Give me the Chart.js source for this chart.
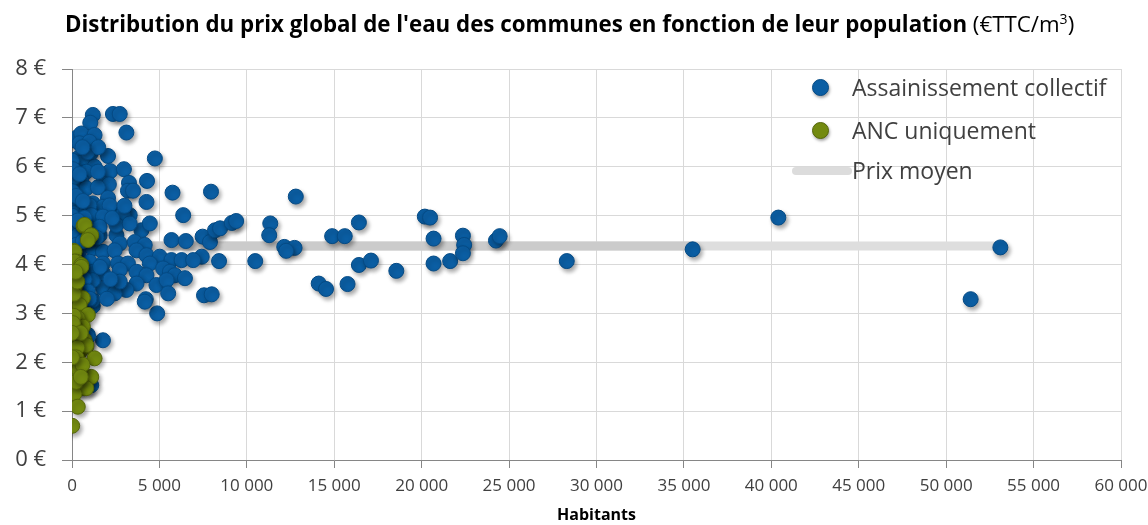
<!DOCTYPE html>
<html lang="fr">
<head>
<meta charset="utf-8">
<script src="https://cdn.jsdelivr.net/npm/chart.js@4.4.1/dist/chart.umd.min.js"></script>
<style>
  body { margin: 0; background: #fff; }
  #wrap { position: relative; width: 1148px; height: 525px; overflow: hidden; }
  #title {
    position: absolute; left: 65px; top: 8px; white-space: nowrap;
    font-family: "Open Sans", sans-serif; font-size: 22.3px; color: #000;
  }
  #title b { font-weight: bold; }
  #title sup { font-size: 14px; }
  .leg { position: absolute; font-family: "Open Sans", sans-serif; font-size: 23px; line-height: 30px; color: #404040; white-space: nowrap; }
  .dot { position: absolute; width: 15px; height: 15px; border-radius: 50%; box-shadow: 1px 2px 3px rgba(0,0,0,0.35); }
</style>
</head>
<body>
<div id="wrap">
  <canvas id="chart" width="1148" height="525"></canvas>
  <div id="title"><b>Distribution du prix global de l'eau des communes en fonction de leur population</b> (€TTC/m<sup>3</sup>)</div>
  <div class="dot" style="left:812px;top:79px;background:#0b5ea3;border:1px solid #054a84"></div>
  <div class="leg" style="left:852px;top:72px">Assainissement collectif</div>
  <div class="dot" style="left:812px;top:122px;background:#738a10;border:1px solid #55660a"></div>
  <div class="leg" style="left:852px;top:115px">ANC uniquement</div>
  <div style="position:absolute;left:792px;top:167px;width:60px;height:8px;border-radius:4px;background:#dcdcdc"></div>
  <div class="leg" style="left:852px;top:155px">Prix moyen</div>
</div>
<script>
// Assainissement collectif : population / prix (€TTC/m3)
const collectifPop = [
  28300, 35500, 40400, 51400, 53100,
  7950, 12800, 7470, 7890, 8180, 8470, 9140, 9390, 7420, 8410, 7550, 7990, 10480, 11340, 11280,
  12140, 12730, 12250, 14110, 14530, 14880, 15600, 16410, 15760, 16410, 17100, 18550, 20180, 20480,
  20680, 20680, 21630, 22360, 22430, 22360, 24250, 24460,
  1190, 1045, 2340, 2730, 3110, 143, 330, 530, 1290, 430, 1000, 50, 330, 1060, 2060, 4740, 620, 1290,
  815, 2190, 2970, 143, 530, 1770, 2110, 3260, 4290, 815, 1480, 3200, 3490, 5750, 2060, 143, 4260,
  1190, 1770, 143, 815, 2820, 3300, 6360,
  1000, 2150, 1100, 1770, 2920, 3970, 4450, 5690, 6510, 0, 330, 1580, 2540, 815, 1580, 2540, 3300,
  2730, 3590, 4160, 430, 1190, 1770, 2440, 3690, 4260, 5020, 5690, 6270, 6930, 1000, 1770, 2630,
  3200, 4450, 1190, 1770, 2730, 3690, 4260, 5210, 5600, 5880, 6460, 4830, 5410, 3690, 3110, 1770,
  2440, 2730, 1190, 4220, 4870, 5500, 1770, 4160, 1190, 1100, 905, 905, 1190, 0, 143, 0, 143, 0, 100,
  0, 50, 240, 430, 620, 720, 240, 620, 430, 720, 905, 620, 1000, 2000, 1400, 1480, 2300, 3000, 1600,
  2200, 330, 900, 1500, 600
];
const collectifPrix = [
  4.07, 4.31, 4.96, 3.29, 4.35,
  5.49, 5.39, 4.57, 4.46, 4.70, 4.74, 4.85, 4.89, 4.16, 4.07, 3.37, 3.39, 4.07, 4.84, 4.60,
  4.36, 4.34, 4.28, 3.61, 3.50, 4.58, 4.58, 4.86, 3.60, 3.99, 4.08, 3.87, 4.98, 4.96,
  4.53, 4.02, 4.07, 4.59, 4.40, 4.23, 4.49, 4.58,
  7.06, 6.90, 7.08, 7.08, 6.70, 6.54, 6.61, 6.68, 6.65, 6.48, 6.51, 6.10, 6.17, 6.27, 6.22, 6.17, 6.10, 6.00,
  5.90, 5.91, 5.95, 5.76, 5.73, 5.66, 5.64, 5.67, 5.71, 5.56, 5.58, 5.51, 5.51, 5.47, 5.36, 5.28, 5.28,
  5.25, 5.18, 5.05, 5.08, 5.05, 5.01, 5.01,
  5.21, 5.21, 5.01, 4.98, 5.03, 4.70, 4.84, 4.50, 4.48, 4.64, 4.60, 4.60, 4.60, 4.81, 4.77, 4.81, 4.84,
  4.43, 4.46, 4.40, 4.29, 4.33, 4.26, 4.29, 4.29, 4.19, 4.16, 4.09, 4.09, 4.09, 4.06, 4.02, 4.02,
  4.02, 4.02, 3.85, 3.82, 3.89, 3.85, 3.78, 3.92, 3.85, 3.78, 3.72, 3.58, 3.68, 3.61, 3.48, 3.51,
  3.41, 3.65, 3.68, 3.29, 3.00, 3.41, 2.45, 3.24, 3.15, 1.53, 2.56, 2.52, 3.27, 6.13, 5.79, 5.00, 4.23, 1.84, 1.55,
  5.50, 5.95, 5.40, 5.85, 5.30, 4.95, 4.40, 4.48, 3.95, 3.70, 3.45, 3.35, 3.30, 3.30, 4.55, 5.90, 4.95, 5.20, 3.95,
  3.70, 4.90, 6.30, 6.40, 6.40
];

// ANC uniquement
const ancPop = [
  660, 720, 965, 1100, 905, 86, 143, 240, 143, 530, 530, 50, 143, 50, 143, 0, 50, 330, 620, 430,
  430, 905, 330, 143, 620, 240, 720, 430, 815, 815, 50, 1290, 50, 143, 143, 815, 1100, 0, 143, 330,
  720, 815, 143, 330, 10,
  200, 100, 300, 250, 50, 400, 600, 100, 300, 200, 500, 0, 0, 250, 500
];
const ancPrix = [
  4.79, 4.81, 4.55, 4.60, 4.50, 4.28, 4.26, 4.06, 4.06, 3.99, 3.95, 3.75, 3.54, 3.58, 3.51, 3.24, 3.20, 3.13, 3.31, 3.17,
  2.90, 2.97, 2.90, 2.52, 2.73, 2.49, 2.45, 2.21, 2.32, 2.35, 2.39, 2.08, 1.94, 1.91, 1.74, 1.70, 1.70, 1.53, 1.53, 1.50,
  1.47, 1.47, 1.36, 1.09, 0.70,
  2.70, 2.95, 2.30, 2.10, 2.80, 1.85, 1.95, 3.40, 3.65, 3.85, 2.60, 2.60, 2.10, 1.60, 1.70
];

// Prix moyen
const prixMoyen = 4.38;
const prixMoyenPop = [0, 53100];
const prixMoyenFoncePop = [0, 35500];

const xTicks = [0, 5000, 10000, 15000, 20000, 25000, 30000, 35000, 40000, 45000, 50000, 55000, 60000];
const yTicks = [0, 1, 2, 3, 4, 5, 6, 7, 8];

const toPoints = (xs, ys) => xs.map((x, i) => ({ x, y: ys[i] }));
const flat = xs => xs.map(x => ({ x, y: prixMoyen }));
const fmtMilliers = v => String(v).replace(/\B(?=(\d{3})+(?!\d))/g, ' ');

// ombre portée sous les bulles, comme dans Excel
const shadowPlugin = {
  id: 'shadow',
  beforeDatasetDraw(chart, args) {
    if (args.meta.type !== 'scatter') return;
    const ctx = chart.ctx;
    ctx.save();
    ctx.shadowColor = 'rgba(0,0,0,0.35)';
    ctx.shadowBlur = 4;
    ctx.shadowOffsetX = 2;
    ctx.shadowOffsetY = 3;
  },
  afterDatasetDraw(chart, args) {
    if (args.meta.type !== 'scatter') return;
    chart.ctx.restore();
  }
};

const axisColor = '#868686';
const gridColor = '#d9d9d9';

new Chart(document.getElementById('chart'), {
  type: 'scatter',
  data: {
    datasets: [
      { type: 'line', label: 'Prix moyen', data: flat(prixMoyenPop), borderColor: '#dedede', borderWidth: 9,
        pointRadius: 0, order: 4 },
      { type: 'line', label: 'Prix moyen (fond)', data: flat(prixMoyenFoncePop), borderColor: '#cbcbcb', borderWidth: 9,
        pointRadius: 0, order: 3 },
      { label: 'Assainissement collectif', data: toPoints(collectifPop, collectifPrix),
        backgroundColor: '#0b5ea3', borderColor: '#054a84', borderWidth: 1, pointRadius: 7.5, order: 2 },
      { label: 'ANC uniquement', data: toPoints(ancPop, ancPrix),
        backgroundColor: '#738a10', borderColor: '#55660a', borderWidth: 1, pointRadius: 7.5, order: 1 }
    ]
  },
  options: {
    responsive: false,
    animation: false,
    devicePixelRatio: 1,
    layout: { padding: { top: 69, right: 27, left: 0, bottom: 0 } },
    plugins: { legend: { display: false }, tooltip: { enabled: false } },
    scales: {
      x: {
        type: 'linear', min: 0, max: 60000,
        afterBuildTicks: s => { s.ticks = xTicks.map(v => ({ value: v })); },
        afterFit: s => { s.height = 65; s.paddingLeft = 0; s.paddingRight = 0; },
        grid: { color: gridColor, tickColor: axisColor, tickLength: 8 },
        border: { color: axisColor },
        ticks: { color: '#404040', padding: 8, maxRotation: 0, autoSkip: false,
          font: { family: '"Open Sans", sans-serif', size: 17 },
          callback: v => fmtMilliers(v) },
        title: { display: true, text: 'Habitants', color: '#000', padding: 0,
          font: { family: '"Open Sans", sans-serif', size: 16, weight: 'bold' } }
      },
      y: {
        type: 'linear', min: 0, max: 8,
        afterBuildTicks: s => { s.ticks = yTicks.map(v => ({ value: v })); },
        afterFit: s => { s.width = 72; },
        grid: { color: gridColor, tickColor: axisColor, tickLength: 10 },
        border: { color: axisColor },
        ticks: { color: '#404040', padding: 16,
          font: { family: '"Open Sans", sans-serif', size: 22 },
          callback: v => v + ' €' }
      }
    }
  },
  plugins: [shadowPlugin]
});
</script>
</body>
</html>
